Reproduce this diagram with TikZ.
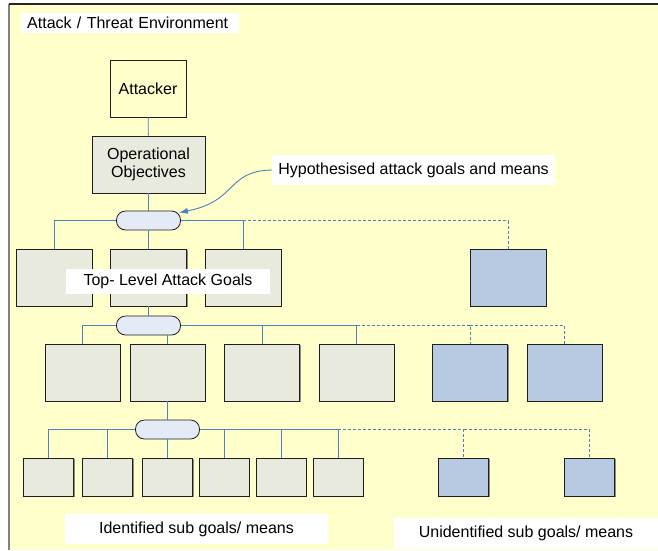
\documentclass[tikz,border=0pt]{standalone}
\usepackage{fontspec}
\setmainfont{Liberation Sans}
\usetikzlibrary{shadows,calc,arrows.meta}
\definecolor{envyellow}{RGB}{255,255,204}
\definecolor{goalgray}{RGB}{233,234,222}
\definecolor{goalblue}{RGB}{184,201,226}
\definecolor{pillblue}{RGB}{228,235,247}
\definecolor{linkblue}{RGB}{79,129,189}
\definecolor{edgedark}{RGB}{30,30,30}

\begin{document}
\begin{tikzpicture}[x=1pt,y=-1pt,
  font=\fontsize{16}{18}\selectfont,
  boxbase/.style={draw=edgedark, line width=0.8pt, inner sep=0pt,
    drop shadow={shadow xshift=1.2pt, shadow yshift=-1.2pt, fill=black!55, opacity=0.8}},
  knowngoal/.style={boxbase, fill=goalgray},
  unknowngoal/.style={boxbase, fill=goalblue},
  bigbox/.style={minimum width=76pt, minimum height=57pt},
  midbox/.style={minimum width=75pt, minimum height=57pt},
  smallbox/.style={minimum width=50pt, minimum height=38pt},
  pill/.style={draw=edgedark, line width=0.8pt, fill=pillblue, rounded corners=9pt,
    minimum width=64pt, minimum height=19pt, inner sep=0pt},
  labelbox/.style={fill=white, inner sep=0pt},
  link/.style={draw=linkblue, line width=0.9pt},
  linkdash/.style={link, dash pattern=on 3pt off 2pt},
]
\useasboundingbox (0,0) rectangle (658,550);

% environment frame
\fill[envyellow] (9,4) rectangle (658,550);
\draw[black!50, line width=2pt] (9,4) -- (9,550);
\draw[black!85, line width=1.2pt] (9,4) -- (658,4);

% attacker and objectives
\node[boxbase, fill=envyellow, bigbox] (att) at (148,88.5) {Attacker};
\node[knowngoal, minimum width=113pt, minimum height=57pt, align=center] (op) at (148.5,164.5) {Operational\\Objectives};

% top-level goals
\node[pill] (p1) at (148.5,220.5) {};
\node[knowngoal, bigbox] (t1) at (54,277.5) {};
\node[knowngoal, bigbox] (t2) at (148.5,277.5) {};
\node[knowngoal, bigbox] (t3) at (243,277.5) {};
\node[unknowngoal, bigbox] (t4) at (508,277.5) {};

% second level
\node[pill] (p2) at (148.5,325.5) {};
\node[knowngoal, midbox] (r1) at (82.5,372.5) {};
\node[knowngoal, midbox] (r2) at (167.5,372.5) {};
\node[knowngoal, midbox] (r3) at (262,372.5) {};
\node[knowngoal, midbox] (r4) at (356.5,372.5) {};
\node[unknowngoal, midbox] (r5) at (470,372.5) {};
\node[unknowngoal, midbox] (r6) at (564.5,372.5) {};

% sub goals
\node[pill] (p3) at (167.5,429.5) {};
\node[knowngoal, smallbox] (s1) at (48.5,477) {};
\node[knowngoal, smallbox] (s2) at (107.5,477) {};
\node[knowngoal, smallbox] (s3) at (167.5,477) {};
\node[knowngoal, smallbox] (s4) at (224,477) {};
\node[knowngoal, smallbox] (s5) at (281,477) {};
\node[knowngoal, smallbox] (s6) at (338,477) {};
\node[unknowngoal, smallbox] (s7) at (463.5,477) {};
\node[unknowngoal, smallbox] (s8) at (589.5,477) {};

% connectors
\draw[link] (att) -- (op);
\draw[link] (op) -- (p1);
\draw[link] (p1.west) -| (t1.north);
\draw[link] (p1) -- (t2);
\draw[link] (p1.east) -| (t3.north);
\draw[linkdash] (t3.north |- p1.east) -| (t4.north);

\draw[link] (t2) -- (p2);
\draw[link] (p2.west) -| (r1.north);
\draw[link] (r2.north) -- (r2.north |- p2.south);
\draw[link] (p2.east) -| (r3.north);
\draw[link] (p2.east) -| (r4.north);
\draw[linkdash] (r4.north |- p2.east) -| (r5.north);
\draw[linkdash] (r5.north |- p2.east) -| (r6.north);

\draw[link] (r2) -- (p3);
\draw[link] (p3.west) -| (s1.north);
\draw[link] (s2.north) -- (s2.north |- p3.west);
\draw[link] (p3) -- (s3);
\draw[link] (p3.east) -| (s4.north);
\draw[link] (p3.east) -| (s5.north);
\draw[link] (p3.east) -| (s6.north);
\draw[linkdash] (s6.north |- p3.east) -| (s7.north);
\draw[linkdash] (s7.north |- p3.east) -| (s8.north);

% labels
\node[labelbox, anchor=west, minimum height=20pt, text width=206pt, inner xsep=6pt, align=left]
  (title) at (21,23) {Attack / Threat Environment};
\node[labelbox, minimum width=283pt, minimum height=30pt] (hyp) at (413.5,170) {Hypothesised attack goals and means};
\node[labelbox, minimum width=204pt, minimum height=25pt] (top) at (168,281.5) {Top- Level Attack Goals};
\node[labelbox, minimum width=263pt, minimum height=30pt] (ident) at (196.5,529) {Identified sub goals/ means};
\node[labelbox, minimum width=264pt, minimum height=31pt] (unident) at (526,533.5) {Unidentified sub goals/ means};

% pointer from the hypothesis label
\draw[link, -{Latex[length=9pt,width=6pt]}] (hyp.west)
  .. controls (226,171) and (238,201) .. ($(p1.north east)+(-2,2)$);
\end{tikzpicture}
\end{document}
